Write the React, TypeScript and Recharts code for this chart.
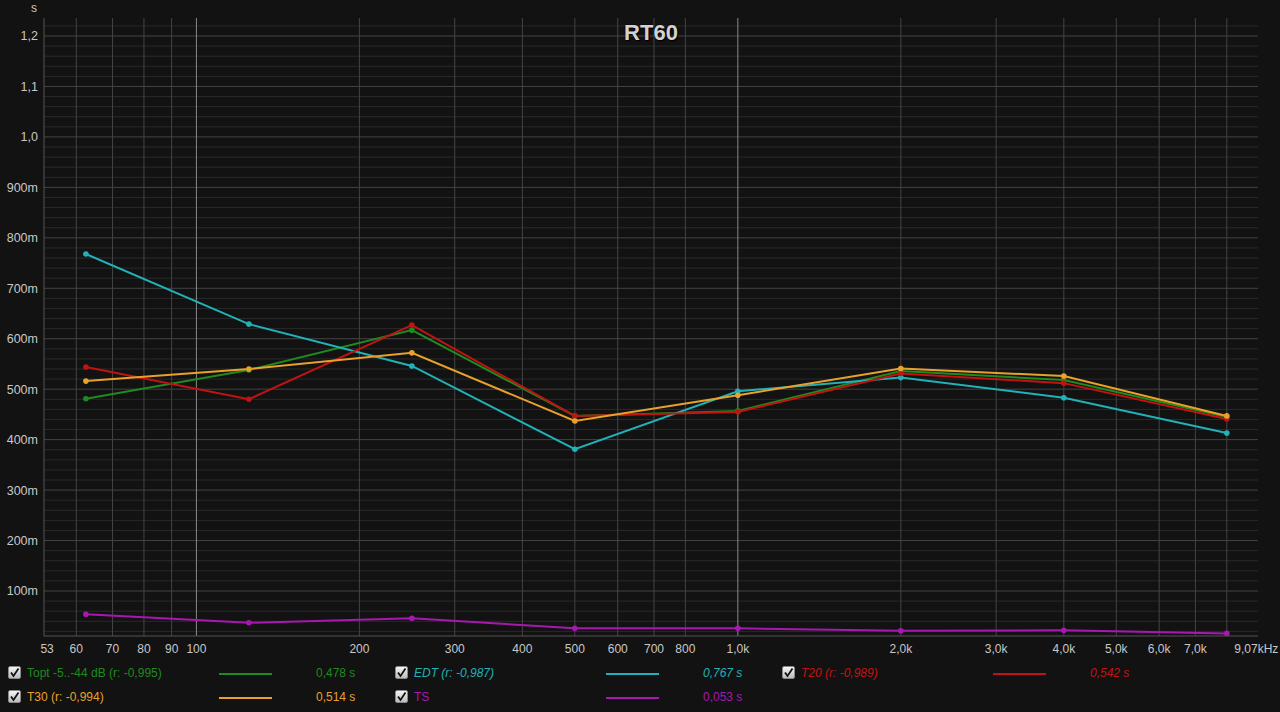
import React from "react";
import { LineChart, Line, XAxis, YAxis, ReferenceLine } from "recharts";

// octave band centres (Hz)
const freqs = [62.5, 125, 250, 500, 1000, 2000, 4000, 8000];

const topt = [0.481, 0.538, 0.617, 0.447, 0.457, 0.536, 0.518, 0.445];
const edt = [0.768, 0.629, 0.546, 0.381, 0.496, 0.523, 0.483, 0.413];
const t20 = [0.544, 0.48, 0.627, 0.447, 0.455, 0.531, 0.512, 0.441];
const t30 = [0.516, 0.54, 0.572, 0.437, 0.488, 0.541, 0.526, 0.447];
const ts = [0.054, 0.037, 0.046, 0.026, 0.026, 0.021, 0.022, 0.016];

const xTicks = [53, 60, 70, 80, 90, 100, 200, 300, 400, 500, 600, 700, 800, 1000, 2000, 3000, 4000, 5000, 6000, 7000, 9070];
const xGrid = [60, 70, 80, 90, 200, 300, 400, 500, 600, 700, 800, 2000, 3000, 4000, 5000, 6000, 7000, 8000];
const xGridBright = [100, 1000];
const yTicks = [0.1, 0.2, 0.3, 0.4, 0.5, 0.6, 0.7, 0.8, 0.9, 1.0, 1.1, 1.2];
const yMinor = [0.02, 0.04, 0.06, 0.08, 0.12, 0.14, 0.16, 0.18, 0.22, 0.24, 0.26, 0.28, 0.32, 0.34, 0.36, 0.38,
  0.42, 0.44, 0.46, 0.48, 0.52, 0.54, 0.56, 0.58, 0.62, 0.64, 0.66, 0.68, 0.72, 0.74, 0.76, 0.78,
  0.82, 0.84, 0.86, 0.88, 0.92, 0.94, 0.96, 0.98, 1.02, 1.04, 1.06, 1.08, 1.12, 1.14, 1.16, 1.18, 1.22];

const series = [
  { key: "topt", values: topt, color: "#1f8a1f", label: "Topt -5..-44 dB (r: -0,995)", value: "0,478 s", italic: false },
  { key: "edt", values: edt, color: "#20b2b8", label: "EDT (r: -0,987)", value: "0,767 s", italic: true },
  { key: "t20", values: t20, color: "#c21212", label: "T20 (r: -0,989)", value: "0,542 s", italic: true },
  { key: "t30", values: t30, color: "#e8a12a", label: "T30 (r: -0,994)", value: "0,514 s", italic: false },
  { key: "ts", values: ts, color: "#a818b0", label: "TS", value: "0,053 s", italic: false },
];

const data = freqs.map((f, i) => {
  const row: Record<string, number> = { freq: f };
  series.forEach((s) => (row[s.key] = s.values[i]));
  return row;
});

const FONT = "'Liberation Sans', Arial, sans-serif";

function fmtX(v: number) {
  if (v === 9070) return "9,07kHz";
  if (v >= 1000) return `${v / 1000},0k`;
  return String(v);
}

function fmtY(v: number) {
  if (v >= 1) return v.toFixed(1).replace(".", ",");
  return `${Math.round(v * 1000)}m`;
}

function CheckBox() {
  return (
    <div
      style={{
        width: 11,
        height: 11,
        borderRadius: 2,
        background: "linear-gradient(#f4f4f4, #bdbdbd)",
        border: "1px solid #888",
        display: "inline-block",
        position: "relative",
      }}
    >
      <svg width="11" height="11" style={{ position: "absolute", left: 0, top: 0 }}>
        <path d="M2 5.5 L4.5 9 L9.5 1.5" stroke="#111" strokeWidth="1.8" fill="none" />
      </svg>
    </div>
  );
}

const legendPos = [
  { x: 8, y: 666 },
  { x: 395, y: 666 },
  { x: 782, y: 666 },
  { x: 8, y: 690 },
  { x: 395, y: 690 },
];

export default function App() {
  return (
    <div
      style={{
        position: "fixed",
        left: 0,
        top: 0,
        width: 1280,
        height: 712,
        background: "#121212",
        fontFamily: FONT,
        overflow: "hidden",
      }}
    >
      <LineChart width={1280} height={660} data={data} margin={{ top: 18, right: 22, bottom: 0, left: 0 }}>
        {yMinor.map((v) => (
          <ReferenceLine key={"ym" + v} y={v} stroke="#2a2a2a" strokeWidth={1} ifOverflow="hidden" />
        ))}
        {yTicks.map((v) => (
          <ReferenceLine key={"y" + v} y={v} stroke="#444" strokeWidth={1} />
        ))}
        {xGrid.map((v) => (
          <ReferenceLine key={"x" + v} x={v} stroke="#444" strokeWidth={1} />
        ))}
        {xGridBright.map((v) => (
          <ReferenceLine key={"xb" + v} x={v} stroke="#8a8a8a" strokeWidth={1} />
        ))}
        <XAxis
          dataKey="freq"
          type="number"
          scale="log"
          domain={[52.3, 9135]}
          allowDataOverflow
          ticks={xTicks}
          tickFormatter={fmtX}
          interval={0}
          tickLine={false}
          axisLine={{ stroke: "#555" }}
          tickMargin={2}
          height={24}
          tick={{ fill: "#c8c8c8", fontSize: 12, fontFamily: FONT }}
        />
        <XAxis xAxisId="top" orientation="top" height={0} tick={false} axisLine={{ stroke: "#555" }} />
        <YAxis
          type="number"
          domain={[0.0108, 1.2357]}
          allowDataOverflow
          ticks={yTicks}
          tickFormatter={fmtY}
          interval={0}
          tickLine={false}
          axisLine={{ stroke: "#555" }}
          tickMargin={0}
          width={44}
          tick={{ fill: "#c8c8c8", fontSize: 12.5, fontFamily: FONT }}
        />
        <YAxis
          yAxisId="r"
          orientation="right"
          width={0}
          tick={false}
          axisLine={{ stroke: "#555" }}
          domain={[0, 1]}
        />
        {series.map((s) => (
          <Line
            key={s.key}
            dataKey={s.key}
            stroke={s.color}
            strokeWidth={2}
            dot={{ r: 2.8, fill: s.color, stroke: s.color, strokeWidth: 0 }}
            type="linear"
            isAnimationActive={false}
          />
        ))}
      </LineChart>

      <div style={{ position: "absolute", left: 31, top: 1, color: "#c8c8c8", fontSize: 12 }}>s</div>
      <div
        style={{
          position: "absolute",
          left: 551,
          width: 200,
          top: 20,
          textAlign: "center",
          color: "#d2d2d2",
          fontSize: 22,
          fontWeight: "bold",
          textShadow: "0 0 2px #000, 1px 1px 1px #000",
        }}
      >
        RT60
      </div>

      {series.map((s, i) => {
        const p = legendPos[i];
        return (
          <div key={s.key} style={{ position: "absolute", left: p.x, top: p.y, height: 14, color: s.color, fontSize: 12, fontStyle: s.italic ? "italic" : "normal" }}>
            <div style={{ position: "absolute", left: 0, top: 0 }}>
              <CheckBox />
            </div>
            <div style={{ position: "absolute", left: 19, top: 0, whiteSpace: "nowrap", lineHeight: "14px" }}>{s.label}</div>
            <div style={{ position: "absolute", left: 211, top: 7, width: 53, height: 2, background: s.color }} />
            <div style={{ position: "absolute", left: 308, top: 0, whiteSpace: "nowrap", lineHeight: "14px" }}>{s.value}</div>
          </div>
        );
      })}
    </div>
  );
}
